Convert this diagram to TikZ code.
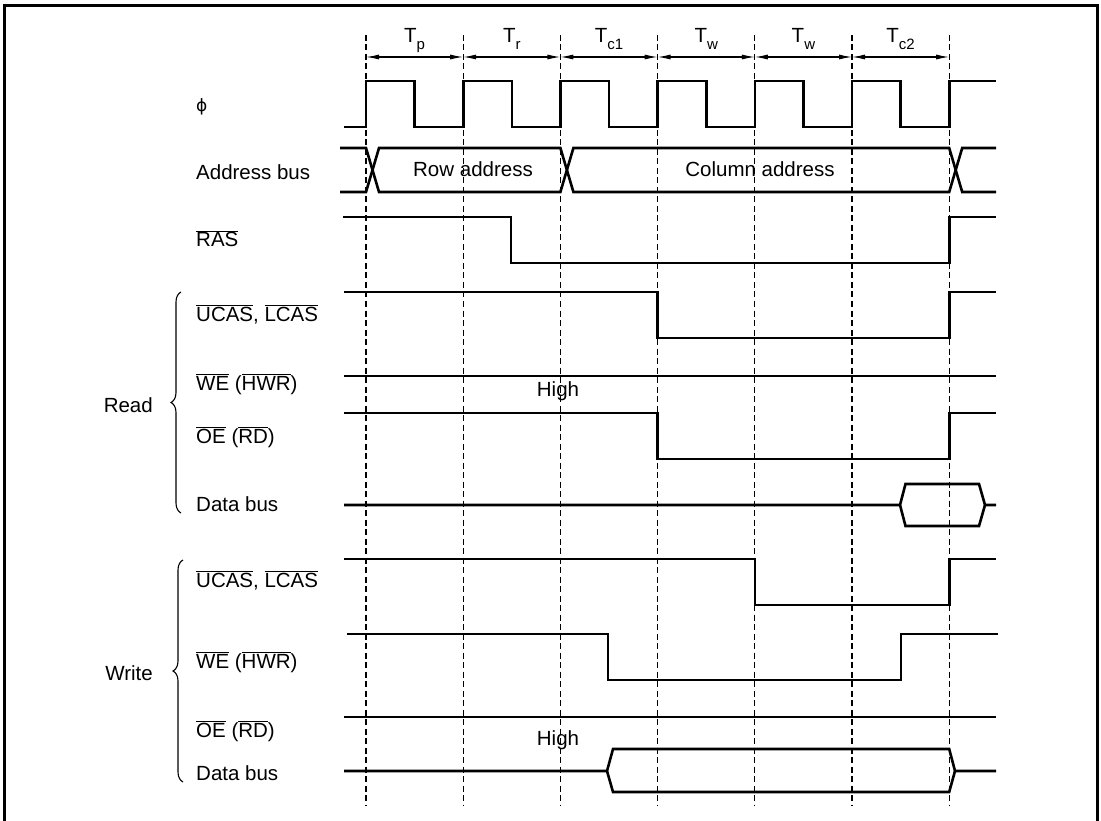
\documentclass[tikz,border=0pt]{standalone}
\usepackage{fontspec}
\setmainfont{Liberation Sans}
\newfontfamily\simbolo{DejaVu Sans}
\usetikzlibrary{arrows.meta, decorations.pathreplacing}
\tikzset{%
    >={Latex[width=5pt,length=13pt]},
    sinal/.style  = {line width=2.6pt, line join=miter},
    guia/.style   = {line width=1.1pt, dash pattern=on 6pt off 3.5pt},
    cota/.style   = {line width=1.1pt, <->},
    rotulo/.style = {anchor=base west, inner sep=0pt, font=\fontsize{20.5}{24}\selectfont},
    texto/.style  = {anchor=base, inner sep=0pt, font=\fontsize{20.5}{24}\selectfont},
    chave/.style  = {line width=1.1pt, decorate, decoration={brace, amplitude=10pt}},
}
\newcommand{\barra}[1]{$\overline{\mbox{#1}}$}
\newcommand{\indice}[1]{\raisebox{-0.3em}{\fontsize{15}{18}\selectfont #1}}

\begin{document}
\begin{tikzpicture}[x=1pt, y=-1pt]
    \useasboundingbox (0,0) rectangle (1101,821);
    \draw[line width=3pt] (4,821) -- (4,6) -- (1097,6) -- (1097,821);

    \foreach \i in {0,...,6} {
        \coordinate (b\i) at ({366+97.2*\i},35);
        \coordinate (s\i) at ({366+97.2*\i},57);
        \draw[guia] (b\i) -- ++(0,770);
    }
    \foreach \i [count=\j] in {0,...,5}
        \draw[cota] (s\i) -- (s\j);
    \foreach \i/\t in {0/p, 1/r, 2/c1, 3/w, 4/w, 5/c2}
        \node[texto] (T\i) at ({414.6+97.2*\i},43) {T\indice{\t}};

    \node[rotulo] (phi)   at (196,112) {{\simbolo\fontsize{17}{20}\selectfont ϕ}};
    \node[rotulo] (addr)  at (196,180) {Address bus};
    \node[rotulo] (ras)   at (196,247) {\barra{RAS}};
    \node[rotulo] (rucas) at (196,321) {\barra{UCAS}, \barra{LCAS}};
    \node[rotulo] (rwe)   at (196,390) {\barra{WE} (\barra{HWR})};
    \node[rotulo] (roe)   at (196,443) {\barra{OE} (\barra{RD})};
    \node[rotulo] (rdata) at (196,511) {Data bus};
    \node[rotulo] (wucas) at (196,587) {\barra{UCAS}, \barra{LCAS}};
    \node[rotulo] (wwe)   at (196,668) {\barra{WE} (\barra{HWR})};
    \node[rotulo] (woe)   at (196,737) {\barra{OE} (\barra{RD})};
    \node[rotulo] (wdata) at (196,780) {Data bus};

    \node[texto, anchor=base east] (read)  at (153,412) {Read};
    \node[texto, anchor=base east] (write) at (153,680) {Write};
    \draw[chave] (181,513) -- (181,292);
    \draw[chave] (183,782) -- (183,560);

    \draw[sinal] (344,127) \foreach \i in {0,...,5} {
        -- ({366+97.2*\i},127) -- ++(0,-46) -- ++(48.6,0) -- ++(0,46)}
        -- (949.2,127) -- (949.2,81) -- (996,81);

    \draw[sinal] (340,148) -- (366,148) -- (379,192) -- (560.4,192) -- (573.4,148)
        -- (949.2,148) -- (962.2,192) -- (996,192);
    \draw[sinal] (340,192) -- (366,192) -- (379,148) -- (560.4,148) -- (573.4,192)
        -- (949.2,192) -- (962.2,148) -- (996,148);
    \node[texto] (row) at (473,177) {Row address};
    \node[texto] (col) at (760,177) {Column address};

    \draw[sinal] (343,217) -- (511,217) -- (511,263) -- (949.2,263) -- (949.2,217) -- (996,217);

    \draw[sinal] (344,292) -- (657.6,292) -- (657.6,338) -- (949.2,338) -- (949.2,292) -- (996,292);
    \draw[sinal] (344,376) -- (996,376);
    \node[texto] (rhigh) at (558,396) {High};
    \draw[sinal] (344,413) -- (657.6,413) -- (657.6,459) -- (949.2,459) -- (949.2,413) -- (996,413);
    \draw[sinal] (344,505) -- (900,505) -- (905.5,484) -- (979,484) -- (985,505) -- (996,505);
    \draw[sinal] (900,505) -- (905.5,526) -- (979,526) -- (985,505);

    \draw[sinal] (344,559) -- (755,559) -- (755,605) -- (949.2,605) -- (949.2,559) -- (996,559);
    \draw[sinal] (347,634) -- (608,634) -- (608,680) -- (901,680) -- (901,634) -- (998,634);
    \draw[sinal] (344,717) -- (996,717);
    \node[texto] (whigh) at (558,745) {High};
    \draw[sinal] (344,771) -- (607,771) -- (613,749) -- (949.2,749) -- (955,771) -- (996,771);
    \draw[sinal] (607,771) -- (613,792) -- (949.2,792) -- (955,771);
\end{tikzpicture}
\end{document}
